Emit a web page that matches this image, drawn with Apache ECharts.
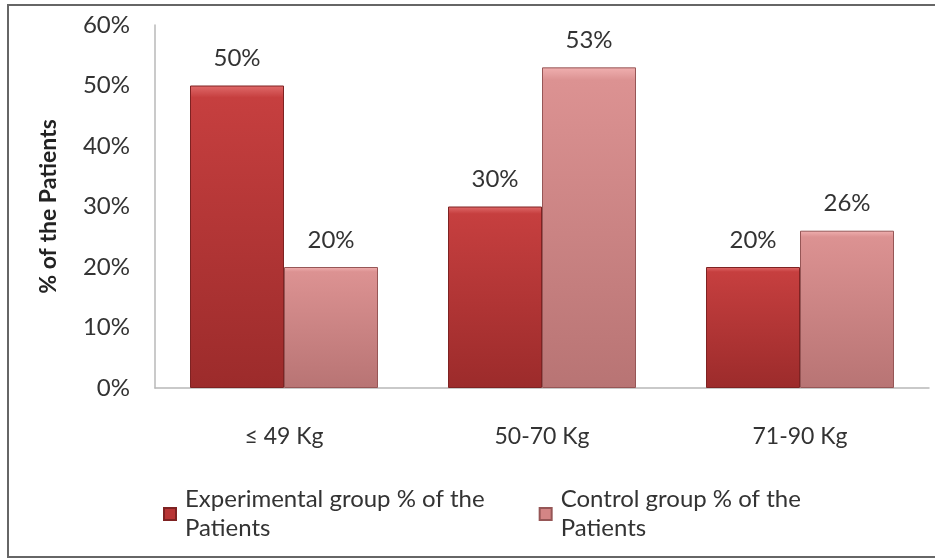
<!DOCTYPE html>
<html>
<head>
<meta charset="utf-8">
<script src="https://cdn.jsdelivr.net/npm/echarts@6/dist/echarts.min.js"></script>
<style>
  html, body { margin: 0; padding: 0; background: #fff; }
  #chart { width: 935px; height: 559px; }
</style>
</head>
<body>
<div id="chart"></div>
<script>
// Weight groups and share of patients (%) in each group
const categories = ['≤ 49 Kg', '50-70 Kg', '71-90 Kg'];
const experimental = [50, 30, 20];
const control = [20, 53, 26];
const yTicks = { min: 0, max: 60, interval: 10 };

const FONT = 'Lato, "Open Sans", sans-serif';

function grad(top, mid, bottom) {
  return new echarts.graphic.LinearGradient(0, 0, 0, 1, [
    { offset: 0, color: top },
    { offset: 0.04, color: mid },
    { offset: 1, color: bottom }
  ]);
}

const labelStyle = {
  show: true,
  position: 'top',
  distance: 15,
  formatter: p => p.value + '%',
  color: '#333',
  fontSize: 24,
  fontFamily: FONT
};

const chart = echarts.init(document.getElementById('chart'));
chart.setOption({
  animation: false,
  backgroundColor: '#fff',
  graphic: [{
    type: 'rect',
    shape: { x: 8, y: 5, width: 940, height: 552 },
    style: { fill: 'none', stroke: '#666', lineWidth: 2 },
    silent: true
  }],
  grid: { left: 155, top: 25, right: 6, bottom: 171 },
  legend: {
    left: 158,
    top: 480,
    itemWidth: 12,
    itemHeight: 12,
    itemGap: 54,
    icon: 'rect',
    textStyle: { fontSize: 24, color: '#333', fontFamily: FONT, lineHeight: 29, padding: [0, 0, 0, 4] },
    data: [
      { name: 'Experimental group % of the\nPatients', itemStyle: { color: '#b83434' } },
      { name: 'Control group % of the\nPatients', itemStyle: { color: '#d48585' } }
    ]
  },
  xAxis: {
    type: 'category',
    data: categories,
    axisLine: { lineStyle: { color: '#b8b8b8', width: 1.5 } },
    axisTick: { show: false },
    axisLabel: { color: '#333', fontSize: 23, fontFamily: FONT, margin: 37 }
  },
  yAxis: {
    type: 'value',
    min: yTicks.min,
    max: yTicks.max,
    interval: yTicks.interval,
    name: '% of the Patients',
    nameLocation: 'middle',
    nameGap: 95,
    nameTextStyle: { fontSize: 23, fontWeight: 'bold', color: '#222', fontFamily: FONT },
    axisLine: { show: true, lineStyle: { color: '#b8b8b8', width: 1.5 } },
    axisTick: { show: false },
    splitLine: { show: false },
    axisLabel: { formatter: '{value}%', color: '#333', fontSize: 24, fontFamily: FONT, margin: 25 }
  },
  series: [
    {
      name: 'Experimental group % of the\nPatients',
      type: 'bar',
      data: experimental,
      barWidth: 94,
      barGap: '0%',
      itemStyle: {
        color: grad('#e06a6a', '#c63f3f', '#9c2b2b'),
        borderColor: '#7e2222',
        borderWidth: 1
      },
      label: labelStyle
    },
    {
      name: 'Control group % of the\nPatients',
      type: 'bar',
      data: control,
      barWidth: 94,
      itemStyle: {
        color: grad('#f0b0b0', '#dc9292', '#b87474'),
        borderColor: '#965656',
        borderWidth: 1
      },
      label: labelStyle
    }
  ]
});
</script>
</body>
</html>
